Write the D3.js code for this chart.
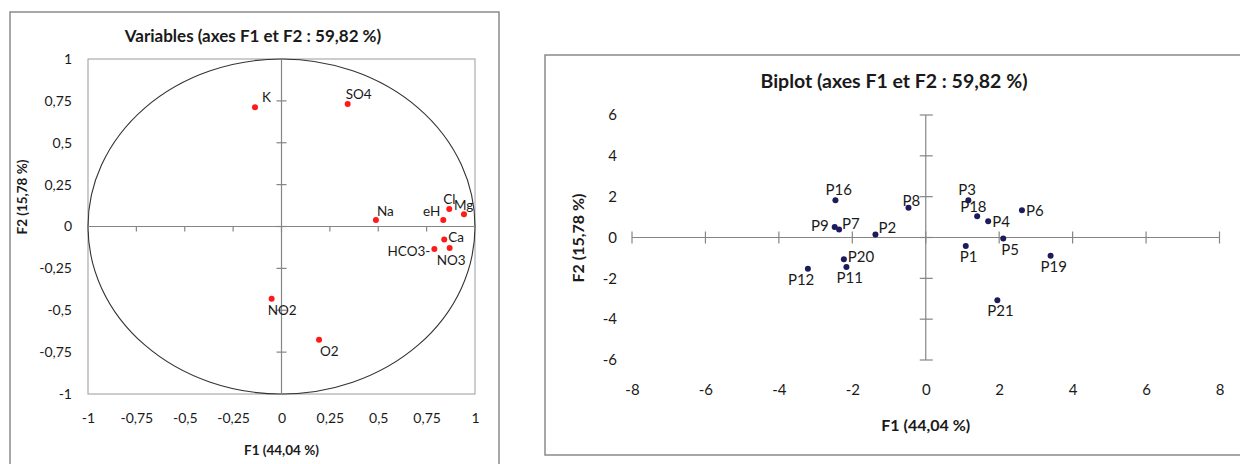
<!DOCTYPE html>
<html>
<head>
<meta charset="utf-8">
<style>
  body { margin: 0; background: #fff; }
  svg text { font-family: Lato, "Open Sans", sans-serif; fill: #1a1a1a; }
</style>
</head>
<body>
<div id="container"></div>
<script src="https://cdn.jsdelivr.net/npm/d3@7"></script>
<script>
// ---- data: variables (correlation circle) ----
const varNames = ["K", "SO4", "Na", "eH", "Cl", "Mg", "Ca", "HCO3-", "NO3", "NO2", "O2"];
const varF1 = [-0.137, 0.342, 0.488, 0.836, 0.867, 0.943, 0.841, 0.790, 0.869, -0.051, 0.194];
const varF2 = [0.712, 0.731, 0.039, 0.039, 0.104, 0.073, -0.077, -0.134, -0.128, -0.431, -0.676];
const circleTicks = [-1, -0.75, -0.5, -0.25, 0, 0.25, 0.5, 0.75, 1];

// ---- data: observations (biplot) ----
const obsNames = ["P1", "P2", "P3", "P4", "P5", "P6", "P7", "P8", "P9", "P11", "P12", "P16", "P18", "P19", "P20", "P21"];
const obsF1 = [1.09, -1.37, 1.16, 1.70, 2.11, 2.62, -2.36, -0.47, -2.48, -2.16, -3.21, -2.46, 1.40, 3.40, -2.23, 1.95];
const obsF2 = [-0.42, 0.15, 1.82, 0.80, -0.05, 1.33, 0.39, 1.46, 0.52, -1.45, -1.53, 1.82, 1.04, -0.89, -1.07, -3.07];
const biXTicks = [-8, -6, -4, -2, 0, 2, 4, 6, 8];
const biYTicks = [-6, -4, -2, 0, 2, 4, 6];

// label placement (dx, dy from the point, anchor)
const varLabelPos = {
  "K": [7, -10, "start"], "SO4": [-2, -10, "start"], "Na": [1, -9, "start"],
  "eH": [-3, -9, "end"], "Cl": [-6, -10, "start"], "Mg": [-10, -9, "start"],
  "Ca": [4, -2, "start"], "HCO3-": [-4, 2, "end"], "NO3": [-13, 12, "start"],
  "NO2": [-4, 11, "start"], "O2": [1, 11, "start"]
};
const obsLabelPos = {
  "P16": [-10, -11, "start"], "P8": [-6, -8, "start"], "P9": [-6, -2, "end"],
  "P7": [3, -7, "start"], "P2": [3, -7, "start"], "P20": [4, -3, "start"],
  "P11": [-10, 10, "start"], "P12": [-20, 10, "start"], "P3": [-10, -11, "start"],
  "P18": [-17, -10, "start"], "P4": [4, 0, "start"], "P6": [4, 0, "start"],
  "P5": [-2, 10, "start"], "P1": [-6, 10, "start"], "P19": [-10, 10, "start"],
  "P21": [-10, 10, "start"]
};

const fmt = v => String(v).replace(".", ",");
const axisCol = "#858585";

const svg = d3.select("#container")
  .append("svg")
  .attr("width", 1240)
  .attr("height", 464);

// ================= left: correlation circle =================
const xL = d3.scaleLinear().domain([-1, 1]).range([88, 475]);
const yL = d3.scaleLinear().domain([-1, 1]).range([394, 59]);

svg.append("rect")
  .attr("x", 10).attr("y", 12).attr("width", 489).attr("height", 470)
  .attr("fill", "none").attr("stroke", "#8a8a8a").attr("stroke-width", 1.5);

svg.append("text")
  .attr("x", 253).attr("y", 35)
  .attr("text-anchor", "middle").attr("dominant-baseline", "central")
  .style("font-size", "17px").style("font-weight", "bold")
  .text("Variables (axes F1 et F2 : 59,82 %)");

const gL = svg.append("g");

gL.append("rect")
  .attr("x", xL(-1)).attr("y", yL(1))
  .attr("width", xL(1) - xL(-1)).attr("height", yL(-1) - yL(1))
  .attr("fill", "none").attr("stroke", "#9a9a9a").attr("stroke-width", 1);

// tick labels
gL.append("g")
  .attr("transform", `translate(${xL(-1)},0)`)
  .call(d3.axisLeft(yL).tickValues(circleTicks).tickSize(0).tickPadding(16).tickFormat(fmt))
  .call(g => g.select(".domain").remove())
  .call(g => g.selectAll("text").style("font-size", "14px").style("font-family", "Lato, sans-serif").attr("fill", "#1a1a1a"));

gL.append("g")
  .attr("transform", `translate(0,${yL(-1)})`)
  .call(d3.axisBottom(xL).tickValues(circleTicks).tickSize(0).tickPadding(19).tickFormat(fmt))
  .call(g => g.select(".domain").remove())
  .call(g => g.selectAll("text").style("font-size", "14px").style("font-family", "Lato, sans-serif").attr("fill", "#1a1a1a"));

// circle
gL.append("ellipse")
  .attr("cx", xL(0)).attr("cy", yL(0))
  .attr("rx", xL(1) - xL(0)).attr("ry", yL(0) - yL(1))
  .attr("fill", "none").attr("stroke", "#333").attr("stroke-width", 1.1);

// zero axes
gL.append("line")
  .attr("x1", xL(0)).attr("x2", xL(0)).attr("y1", yL(1)).attr("y2", yL(-1))
  .attr("stroke", axisCol).attr("stroke-width", 1.2);
gL.append("line")
  .attr("x1", xL(-1)).attr("x2", xL(1)).attr("y1", yL(0)).attr("y2", yL(0))
  .attr("stroke", axisCol).attr("stroke-width", 1.2);
gL.selectAll(".vt").data(circleTicks).join("line")
  .attr("x1", xL(0) - 5).attr("x2", xL(0) + 5)
  .attr("y1", d => yL(d)).attr("y2", d => yL(d))
  .attr("stroke", axisCol).attr("stroke-width", 1.2);
gL.selectAll(".ht").data(circleTicks).join("line")
  .attr("x1", d => xL(d)).attr("x2", d => xL(d))
  .attr("y1", yL(0)).attr("y2", yL(0) + 5)
  .attr("stroke", axisCol).attr("stroke-width", 1.2);

// points + labels
const varData = varNames.map((n, i) => ({ name: n, f1: varF1[i], f2: varF2[i] }));
gL.selectAll(".vp").data(varData).join("circle")
  .attr("cx", d => xL(d.f1)).attr("cy", d => yL(d.f2))
  .attr("r", 3).attr("fill", "#ff1a1a");
gL.selectAll(".vl").data(varData).join("text")
  .attr("x", d => xL(d.f1) + varLabelPos[d.name][0])
  .attr("y", d => yL(d.f2) + varLabelPos[d.name][1])
  .attr("text-anchor", d => varLabelPos[d.name][2])
  .attr("dominant-baseline", "central")
  .style("font-size", "13.5px")
  .text(d => d.name);

// axis titles
svg.append("text")
  .attr("x", xL(0)).attr("y", 450)
  .attr("text-anchor", "middle").attr("dominant-baseline", "central")
  .style("font-size", "13.5px").style("font-weight", "bold")
  .text("F1 (44,04 %)");
svg.append("text")
  .attr("transform", "translate(22,197) rotate(-90)")
  .attr("text-anchor", "middle").attr("dominant-baseline", "central")
  .style("font-size", "13.5px").style("font-weight", "bold")
  .text("F2 (15,78 %)");

// ================= right: biplot =================
const xR = d3.scaleLinear().domain([-8, 8]).range([632, 1219.5]);
const yR = d3.scaleLinear().domain([-6, 6]).range([360, 115]);

svg.append("rect")
  .attr("x", 545).attr("y", 55).attr("width", 720).attr("height", 400)
  .attr("fill", "none").attr("stroke", "#8a8a8a").attr("stroke-width", 1.5);

svg.append("text")
  .attr("x", 894).attr("y", 80)
  .attr("text-anchor", "middle").attr("dominant-baseline", "central")
  .style("font-size", "19.5px").style("font-weight", "bold")
  .text("Biplot (axes F1 et F2 : 59,82 %)");

const gR = svg.append("g");

gR.append("g")
  .attr("transform", `translate(${xR(-8)},0)`)
  .call(d3.axisLeft(yR).tickValues(biYTicks).tickSize(0).tickPadding(15).tickFormat(fmt))
  .call(g => g.select(".domain").remove())
  .call(g => g.selectAll("text").style("font-size", "15px").style("font-family", "Lato, sans-serif").attr("fill", "#1a1a1a"));

gR.append("g")
  .attr("transform", `translate(0,${yR(-6)})`)
  .call(d3.axisBottom(xR).tickValues(biXTicks).tickSize(0).tickPadding(24).tickFormat(fmt))
  .call(g => g.select(".domain").remove())
  .call(g => g.selectAll("text").style("font-size", "15px").style("font-family", "Lato, sans-serif").attr("fill", "#1a1a1a"));

gR.append("line")
  .attr("x1", xR(0)).attr("x2", xR(0)).attr("y1", yR(6)).attr("y2", yR(-6))
  .attr("stroke", axisCol).attr("stroke-width", 1.2);
gR.append("line")
  .attr("x1", xR(-8)).attr("x2", xR(8)).attr("y1", yR(0)).attr("y2", yR(0))
  .attr("stroke", axisCol).attr("stroke-width", 1.2);
gR.selectAll(".vt").data(biYTicks).join("line")
  .attr("x1", xR(0) - 6).attr("x2", xR(0) + 7)
  .attr("y1", d => yR(d)).attr("y2", d => yR(d))
  .attr("stroke", axisCol).attr("stroke-width", 1.2);
gR.selectAll(".ht").data(biXTicks).join("line")
  .attr("x1", d => xR(d)).attr("x2", d => xR(d))
  .attr("y1", yR(0) - 6).attr("y2", yR(0) + 6)
  .attr("stroke", axisCol).attr("stroke-width", 1.2);

const obsData = obsNames.map((n, i) => ({ name: n, f1: obsF1[i], f2: obsF2[i] }));
gR.selectAll(".op").data(obsData).join("circle")
  .attr("cx", d => xR(d.f1)).attr("cy", d => yR(d.f2))
  .attr("r", 3).attr("fill", "#1c1c5c");
gR.selectAll(".ol").data(obsData).join("text")
  .attr("x", d => xR(d.f1) + obsLabelPos[d.name][0])
  .attr("y", d => yR(d.f2) + obsLabelPos[d.name][1])
  .attr("text-anchor", d => obsLabelPos[d.name][2])
  .attr("dominant-baseline", "central")
  .style("font-size", "15px")
  .text(d => d.name);

svg.append("text")
  .attr("x", xR(0)).attr("y", 424)
  .attr("text-anchor", "middle").attr("dominant-baseline", "central")
  .style("font-size", "16px").style("font-weight", "bold")
  .text("F1 (44,04 %)");
svg.append("text")
  .attr("transform", "translate(577,238) rotate(-90)")
  .attr("text-anchor", "middle").attr("dominant-baseline", "central")
  .style("font-size", "16px").style("font-weight", "bold")
  .text("F2 (15,78 %)");
</script>
</body>
</html>
